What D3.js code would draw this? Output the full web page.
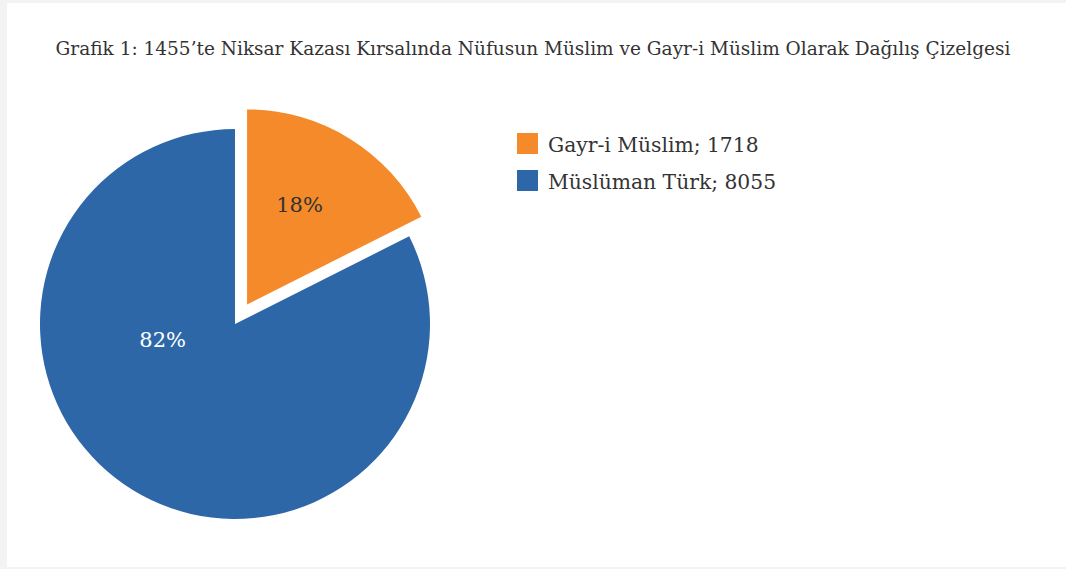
<!DOCTYPE html>
<html>
<head>
<meta charset="utf-8">
<script src="https://cdn.jsdelivr.net/npm/d3@7"></script>
<style>
  body { margin: 0; background: #f3f3f3; }
  svg { display: block; }
  text { font-family: "DejaVu Serif", "Liberation Serif", serif; }
</style>
</head>
<body>
<div id="chart"></div>
<script>
// Data.
const categories = ["Gayr-i Müslim", "Müslüman Türk"];
const values = [1718, 8055];
const colors = ["#f58a2a", "#2e67a8"];
const labelColors = ["#333333", "#ffffff"];
const title = "Grafik 1: 1455’te Niksar Kazası Kırsalında Nüfusun Müslim ve Gayr-i Müslim Olarak Dağılış Çizelgesi";

const width = 1066;
const height = 569;

const svg = d3.select("#chart").append("svg")
    .attr("width", width)
    .attr("height", height);

// Chart area (white) on the light grey page.
svg.append("rect")
    .attr("x", 7).attr("y", 3)
    .attr("width", width - 7).attr("height", 564)
    .attr("fill", "#ffffff");

svg.append("text")
    .attr("x", 533)
    .attr("y", 55)
    .attr("text-anchor", "middle")
    .attr("font-size", 18.5)
    .attr("fill", "#333333")
    .text(title);

// Pie.
let cx = 235, cy = 324, radius = 195;
let explode = 23;

let pie = d3.pie().sort(null).value(d => d);
let arcs = pie(values);
let arc = d3.arc().innerRadius(0).outerRadius(radius);

let total = d3.sum(values);

let g = svg.append("g")
    .attr("transform", "translate(" + cx + "," + cy + ")");

// Only the first slice is pulled out.
function sliceOffset(d, i) {
    if (i !== 0) return [0, 0];
    let mid = (d.startAngle + d.endAngle) / 2;
    return [explode * Math.sin(mid), -explode * Math.cos(mid)];
}

g.selectAll("path")
    .data(arcs)
    .enter()
    .append("path")
    .attr("d", arc)
    .attr("fill", (d, i) => colors[i])
    .attr("transform", function(d, i) {
        let o = sliceOffset(d, i);
        return "translate(" + o[0] + "," + o[1] + ")";
    });

// Label placement (angle clockwise from top, distance from the slice tip).
function labelPos(d, i) {
    let o = sliceOffset(d, i);
    let ang, dist;
    if (i === 0) {
        ang = (d.startAngle + d.endAngle) / 2 - 0.07;
        dist = radius * 0.58;
    } else {
        ang = 257.5 * Math.PI / 180;
        dist = radius * 0.38;
    }
    return [o[0] + dist * Math.sin(ang), o[1] - dist * Math.cos(ang)];
}

g.selectAll("text.label")
    .data(arcs)
    .enter()
    .append("text")
    .attr("class", "label")
    .attr("x", (d, i) => labelPos(d, i)[0])
    .attr("y", (d, i) => labelPos(d, i)[1])
    .attr("dy", "0.35em")
    .attr("text-anchor", "middle")
    .attr("font-size", 21)
    .attr("fill", (d, i) => labelColors[i])
    .text(d => Math.round(d.value / total * 100) + "%");

// Legend.
let legend = svg.append("g")
    .attr("transform", "translate(517,133)");

let item = legend.selectAll("g")
    .data(categories)
    .enter()
    .append("g")
    .attr("transform", (d, i) => "translate(0," + (i * 37) + ")");

item.append("rect")
    .attr("width", 21)
    .attr("height", 21)
    .attr("fill", (d, i) => colors[i]);

item.append("text")
    .attr("x", 31)
    .attr("y", 19)
    .attr("font-size", 20.3)
    .attr("fill", "#333333")
    .text((d, i) => d + "; " + values[i]);
</script>
</body>
</html>
